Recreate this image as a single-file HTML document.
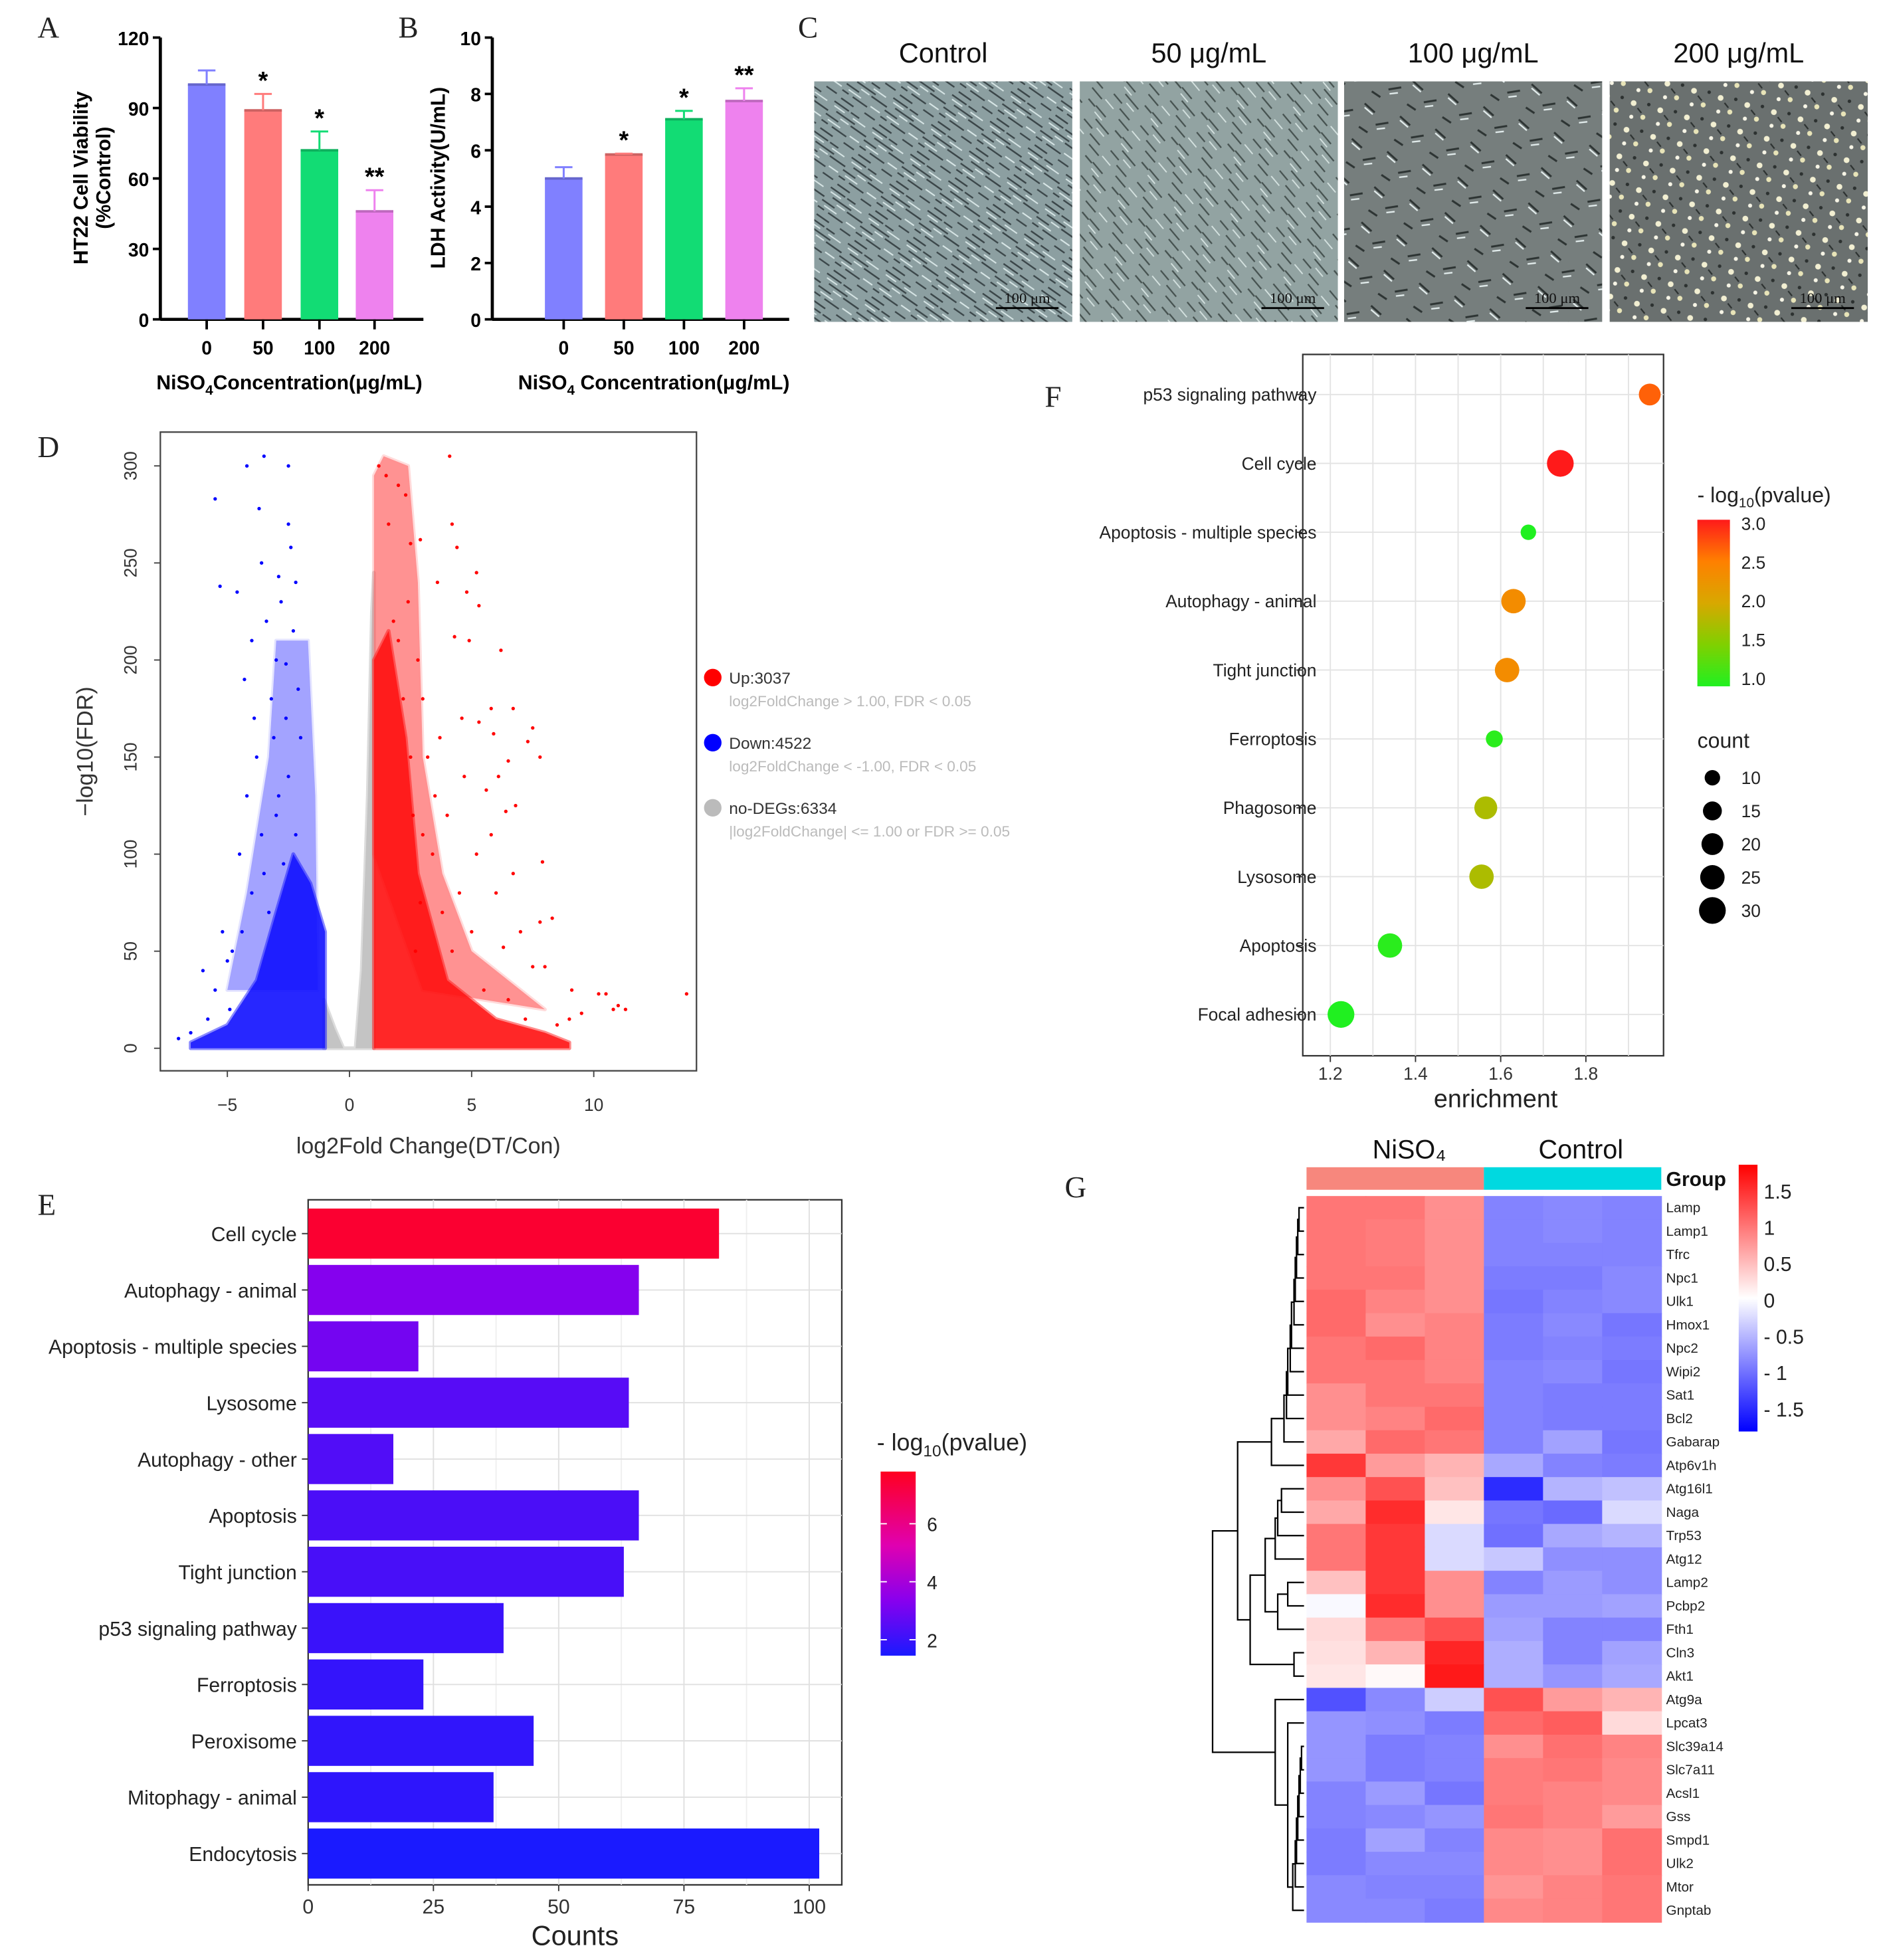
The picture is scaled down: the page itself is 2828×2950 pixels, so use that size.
<!DOCTYPE html>
<html><head><meta charset="utf-8">
<style>
html,body{margin:0;padding:0;background:#fff;}
svg{display:block;font-family:"Liberation Sans",Arial,sans-serif;}
</style></head>
<body>
<svg id="fig" xmlns="http://www.w3.org/2000/svg" width="2828" height="2950" viewBox="0 0 1500 1565" preserveAspectRatio="none">
<defs>
<pattern id="cellsDense" width="37" height="29" patternUnits="userSpaceOnUse" patternTransform="rotate(35)">
<rect width="37" height="29" fill="#8c9fa1"/>
<path d="M0 3h14M6 9h18M0 15h12M10 21h14M16 3h8M0 21h6M22 12h15M25 26h10M3 27h12" stroke="#3b4649" stroke-width="1.3"/>
<path d="M2 6h10M12 12h8M4 18h12M20 6h12M26 19h9" stroke="#d8e6e6" stroke-width="1.1"/>
</pattern>
<pattern id="cellsMid" width="33" height="31" patternUnits="userSpaceOnUse" patternTransform="rotate(50)">
<rect width="33" height="31" fill="#92a3a2"/>
<path d="M0 4h12M8 11h16M2 18h10M14 22h12M20 28h12M25 5h8" stroke="#45514f" stroke-width="1.2"/>
<path d="M3 8h9M14 15h9M1 26h10" stroke="#d5e2e0" stroke-width="1"/>
</pattern>
<pattern id="cellsSparse" width="30" height="30" patternUnits="userSpaceOnUse" patternTransform="rotate(20)">
<rect width="30" height="30" fill="#767e7d"/>
<path d="M2 5l10 4M16 18l9 -5M4 24l8 2" stroke="#2d3433" stroke-width="1.6"/>
<path d="M3 8l8 3M18 21l6 -3" stroke="#e4eeee" stroke-width="1.2"/>
</pattern>
<pattern id="cellsRound" width="22" height="22" patternUnits="userSpaceOnUse" patternTransform="rotate(15)">
<rect width="22" height="22" fill="#6a706f"/>
<circle cx="5" cy="6" r="2.3" fill="#f2efd2"/><circle cx="15" cy="15" r="2" fill="#e8e4b8"/>
<circle cx="17" cy="4" r="1.4" fill="#2c3130"/><circle cx="6" cy="17" r="1.6" fill="#f7f5e6"/>
<path d="M9 9l4 3" stroke="#2c3130" stroke-width="1.2"/>
</pattern>
<linearGradient id="gradE" x1="0" y1="1" x2="0" y2="0">
<stop offset="0" stop-color="#1a1aff"/><stop offset="0.3" stop-color="#8800ee"/><stop offset="0.6" stop-color="#e000b0"/><stop offset="1" stop-color="#ff0020"/>
</linearGradient>
<linearGradient id="gradF" x1="0" y1="1" x2="0" y2="0">
<stop offset="0" stop-color="#20f020"/><stop offset="0.25" stop-color="#80d000"/><stop offset="0.5" stop-color="#d8a800"/><stop offset="0.75" stop-color="#ff8000"/><stop offset="1" stop-color="#ff1a1a"/>
</linearGradient>
<linearGradient id="gradG" x1="0" y1="1" x2="0" y2="0">
<stop offset="0" stop-color="#0000ff"/><stop offset="0.5" stop-color="#ffffff"/><stop offset="1" stop-color="#ff0000"/>
</linearGradient>
</defs>
<g id="root"></g>
</svg>
<script>
// ===== Panel A/B data =====
const concCats = ['0','50','100','200'];
const viability = [100, 89, 72, 46];
const viabilityErr = [106, 96, 80, 55];
const viabilitySig = ['', '*', '*', '**'];
const viabilityTicks = [0,30,60,90,120];
const ldh = [5.0, 5.85, 7.1, 7.75];
const ldhErr = [5.4, 5.88, 7.4, 8.2];
const ldhSig = ['', '*', '*', '**'];
const ldhTicks = [0,2,4,6,8,10];
const barColors = ['#8080ff','#ff7b7b','#12dc74','#ee82ee'];
// ===== Panel C =====
const photoTitles = ['Control','50 μg/mL','100 μg/mL','200 μg/mL'];
// ===== Panel D (volcano) =====
const volcXTicks = [-5,0,5,10];
const volcYTicks = [0,50,100,150,200,250,300];
const grayCloud = [[-1.05,0],[-1.05,25],[-0.6,10],[-0.25,0],[0.25,0],[0.5,40],[0.75,130],[0.92,225],[1,245],[1,0]];
const blueMid = [[-1.3,30],[-1.4,130],[-1.7,210],[-3.0,210],[-3.3,150],[-4.2,80],[-5,30]];
const blueDense = [[-1,0],[-1,60],[-1.6,85],[-2.3,100],[-3,70],[-3.8,35],[-5,12],[-6.5,3],[-6.5,0]];
const redMid = [[1,100],[1,295],[1.4,305],[2.4,300],[2.8,240],[3,150],[3.8,90],[5,50],[8,20],[3,30]];
const redDense = [[1,0],[1,200],[1.6,215],[2.3,160],[2.8,90],[4,35],[6,15],[8,8],[9,3],[9,0]];
const redPtsX = [1.2,1.5,2,2.3,4.1,4.2,4.4,2.5,2.9,5.2,3.6,4.8,5.3,4.3,6.2,4.9,6.7,7.5,7.3,5.8,5.3,5.9,7.8,6.5,6.1,5.6,6.8,6.4,5.8,7.9,5.2,6.7,7.8,8.3,6.3,7.5,8.0,9.1,10.2,10.5,11.3,11.0,13.8,9.0,8.5,7.2,3.5,3.0,2.8,3.2,4.0,4.5,5.0,3.8,2.6,2.2,1.8,3.4,2.9,4.2,5.5,6.5,3.0,2.4,1.6,2.0,2.5,3.7,4.6,2.7,9.5,10.8,7.0,6.0,4.7];
const redPtsY = [300,295,290,285,305,270,258,260,262,245,240,235,228,212,205,210,175,165,158,175,168,162,150,148,140,133,125,122,110,96,100,90,65,67,52,42,42,30,28,28,20,22,28,15,12,15,130,180,200,150,120,80,60,70,120,180,220,100,75,50,30,25,110,230,270,210,150,160,170,50,18,20,60,80,140];
const bluePtsX = [-3.5,-4.2,-2.5,-5.5,-3.7,-2.5,-2.4,-3.6,-2.9,-2.2,-5.3,-4.6,-2.8,-3.4,-4,-2.6,-4.3,-3.2,-2.0,-3.8,-2.5,-4.2,-3.0,-2.2,-4.5,-3.5,-5.2,-6.0,-5.5,-4.8,-4.0,-3.3,-2.7,-3.9,-2.3,-3.1,-6.5,-7,-5.8,-4.9,-2.9,-2.1,-3.6,-4.4,-5.0,-3.0,-2.6];
const bluePtsY = [305,300,300,283,278,270,258,250,243,240,238,235,230,220,210,198,190,180,160,150,140,130,120,110,100,90,60,40,30,50,80,70,95,170,215,160,8,5,15,20,130,185,110,60,45,200,170];
const volcLegend = [['Up:3037','log2FoldChange > 1.00, FDR < 0.05','#ff0000'],['Down:4522','log2FoldChange < -1.00, FDR < 0.05','#0000ff'],['no-DEGs:6334','|log2FoldChange| <= 1.00 or FDR >= 0.05','#bbbbbb']];
// ===== Panel E =====
const eTerms = ['Cell cycle','Autophagy -  animal','Apoptosis -  multiple species','Lysosome','Autophagy -  other','Apoptosis','Tight junction','p53 signaling pathway','Ferroptosis','Peroxisome','Mitophagy -  animal','Endocytosis'];
const eCounts = [82,66,22,64,17,66,63,39,23,45,37,102];
const ePval = [7.5,3.3,3.0,2.5,2.4,2.3,2.25,2.0,1.9,1.85,1.8,1.3];
const eTicks = [0,25,50,75,100];
const eLegendTicks = [2,4,6];
// ===== Panel F =====
const fTerms = ['p53 signaling pathway','Cell cycle','Apoptosis -  multiple species','Autophagy -  animal','Tight junction','Ferroptosis','Phagosome','Lysosome','Apoptosis','Focal adhesion'];
const fEnrich = [1.95,1.74,1.665,1.63,1.615,1.585,1.565,1.555,1.34,1.225];
const fPval = [2.65,3.0,1.0,2.35,2.35,1.05,1.75,1.75,1.05,1.0];
const fCount = [20,30,10,25,25,12,22,25,25,30];
const fTicks = [1.2,1.4,1.6,1.8];
const fColorTicks = [3.0,2.5,2.0,1.5,1.0];
const fCountTicks = [10,15,20,25,30];
// ===== Panel G =====
const genes = ['Lamp','Lamp1','Tfrc','Npc1','Ulk1','Hmox1','Npc2','Wipi2','Sat1','Bcl2','Gabarap','Atp6v1h','Atg16l1','Naga','Trp53','Atg12','Lamp2','Pcbp2','Fth1','Cln3','Akt1','Atg9a','Lpcat3','Slc39a14','Slc7a11','Acsl1','Gss','Smpd1','Ulk2','Mtor','Gnptab'];
const gNi1 = [1.1,1.1,1.1,1.1,1.2,1.2,1.1,1.1,0.9,0.9,0.7,1.6,0.9,0.7,1.1,1.1,0.5,-0.05,0.3,0.25,0.2,-1.4,-0.85,-0.85,-0.85,-1.0,-1.0,-1.05,-1.05,-0.95,-0.95];
const gNi2 = [1.1,1.05,1.05,1.1,1.0,0.9,1.2,1.1,1.1,1.0,1.2,0.8,1.4,1.7,1.6,1.6,1.6,1.7,1.1,0.6,0.05,-0.95,-0.9,-1.05,-1.05,-0.8,-0.95,-0.75,-0.95,-1.0,-0.95];
const gNi3 = [0.9,0.9,0.9,0.9,0.9,1.0,1.0,1.0,1.1,1.2,1.1,0.6,0.5,0.2,-0.3,-0.3,0.9,0.9,1.4,1.75,1.85,-0.4,-1.05,-1.0,-1.0,-1.1,-0.85,-1.0,-0.95,-1.0,-1.05];
const gCo1 = [-1.0,-1.0,-1.0,-1.05,-1.1,-1.05,-1.05,-1.0,-1.0,-1.0,-1.0,-0.7,-1.7,-1.1,-1.15,-0.45,-1.0,-0.8,-0.75,-0.65,-0.65,1.4,1.2,0.9,1.05,1.05,1.1,0.95,0.95,0.85,0.95];
const gCo2 = [-0.95,-0.95,-1.0,-1.05,-1.0,-0.95,-1.0,-0.95,-1.05,-1.05,-0.75,-1.0,-0.6,-1.2,-0.7,-0.9,-0.8,-0.8,-1.0,-1.0,-0.85,0.8,1.3,1.15,1.1,1.0,1.0,0.9,0.9,1.0,1.0];
const gCo3 = [-1.0,-1.0,-1.0,-0.95,-0.95,-1.1,-1.05,-1.1,-1.05,-1.05,-1.1,-1.05,-0.5,-0.3,-0.6,-0.9,-0.9,-0.75,-1.0,-0.75,-0.7,0.6,0.3,1.0,0.95,0.95,0.8,1.15,1.15,1.1,1.1];
const gLegendTicks = [1.5,1,0.5,0,-0.5,-1,-1.5];

const NS='http://www.w3.org/2000/svg';
const root=document.getElementById('root');
function el(tag,attrs,parent,txt){const e=document.createElementNS(NS,tag);for(const k in attrs)e.setAttribute(k,attrs[k]);if(txt!==undefined)e.textContent=txt;(parent||root).appendChild(e);return e;}
function grp(name){const g=el('g',{});return g;}
function lerpColor(stops,t){t=Math.max(0,Math.min(1,t));for(let i=1;i<stops.length;i++){if(t<=stops[i][0]){const a=stops[i-1],b=stops[i];const u=(t-a[0])/(b[0]-a[0]);const ca=a[1],cb=b[1];const c=[0,1,2].map(j=>Math.round(ca[j]+(cb[j]-ca[j])*u));return 'rgb('+c.join(',')+')';}}const l=stops[stops.length-1][1];return 'rgb('+l.join(',')+')';}

const letters=[['A',30,30],['B',318,30],['C',637,30],['D',30,365],['E',30,970],['F',834,325],['G',850,956]];
letters.forEach(l=>{const t=el('text',{x:l[1],y:l[2],'font-family':'"Liberation Serif",serif','font-size':24,fill:'#222'},root,l[0]);

});

function barChart(name,axisX,cx,vals,errs,sig,ticks,maxV,ylabel,ylabel2,xlabel,xEnd,xlabX){
  const g=grp(name);
  const y=v=>255-v*225/maxV;
  el('line',{x1:axisX,y1:y(maxV),x2:axisX,y2:256,stroke:'#000','stroke-width':2.5},g);
  el('line',{x1:axisX,y1:255,x2:xEnd,y2:255,stroke:'#000','stroke-width':2.5},g);
  ticks.forEach(t=>{el('line',{x1:axisX-6,y1:y(t),x2:axisX,y2:y(t),stroke:'#000','stroke-width':2},g);
    const tl=el('text',{x:axisX-9,y:y(t)+6,'text-anchor':'end','font-size':15,'font-weight':'bold',fill:'#000'},g,String(t));
    
    });
  vals.forEach((v,i)=>{const c=cx[i];
    const b=el('rect',{x:c-15,y:y(v),width:30,height:255-y(v),fill:barColors[i]},g);
    
    
    el('line',{x1:c-15,y1:y(v),x2:c+15,y2:y(v),stroke:barColors[i],'stroke-width':2,filter:'brightness(0.8)'},g);
    el('line',{x1:c,y1:y(v),x2:c,y2:y(errs[i]),stroke:barColors[i],'stroke-width':1.6},g);
    el('line',{x1:c-7,y1:y(errs[i]),x2:c+7,y2:y(errs[i]),stroke:barColors[i],'stroke-width':1.6},g);
    if(sig[i]){const s=el('text',{x:c,y:y(errs[i])-4,'text-anchor':'middle','font-size':20,'font-weight':'bold'},g,sig[i]);
      
      }
    el('line',{x1:c,y1:255,x2:c,y2:263,stroke:'#000','stroke-width':2},g);
    const xl=el('text',{x:c,y:283,'text-anchor':'middle','font-size':15,'font-weight':'bold'},g,concCats[i]);
    
    
  });
  const yl=el('text',{transform:'translate('+(axisX-(ylabel2?58:38))+',142) rotate(-90)','text-anchor':'middle','font-size':16,'font-weight':'bold'},g,ylabel);
  
  
  if(ylabel2){el('text',{transform:'translate('+(axisX-40)+',142) rotate(-90)','text-anchor':'middle','font-size':16,'font-weight':'bold'},g,ylabel2);}
  const xt=el('text',{x:xlabX,y:311,'text-anchor':'middle','font-size':16,'font-weight':'bold'},g);
  
  
  el('tspan',{},xt,'NiSO');el('tspan',{'font-size':11,dy:4},xt,'4');el('tspan',{dy:-4},xt,xlabel);
}
barChart('viability-chart',128,[165,210,255,299],viability,viabilityErr,viabilitySig,viabilityTicks,120,'HT22 Cell Viability','(%Control)','Concentration(μg/mL)',338,231);
barChart('ldh-chart',393,[450,498,546,594],ldh,ldhErr,ldhSig,ldhTicks,10,'LDH Activity(U/mL)',null,' Concentration(μg/mL)',630,522);

(function(){const g=grp('cell-photos');
  const xs=[650,862,1073,1285];const pats=['cellsDense','cellsMid','cellsSparse','cellsRound'];
  photoTitles.forEach((t,i)=>{
    const tt=el('text',{x:xs[i]+103,y:50,'text-anchor':'middle','font-size':22,fill:'#111'},g,t);
    
    
    const r=el('rect',{x:xs[i],y:65,width:206,height:192,fill:'url(#'+pats[i]+')'},g);
    
    
    el('line',{x1:xs[i]+145,y1:246,x2:xs[i]+195,y2:246,stroke:'#000','stroke-width':1.5},g);
    el('text',{x:xs[i]+170,y:242,'text-anchor':'middle','font-family':'"Liberation Serif",serif','font-size':12,fill:'#111'},g,'100 μm');
  });})();

(function(){const g=grp('volcano-plot');
  const X=v=>279+v*19.5, Y=v=>837-v*1.55;
  el('rect',{x:128,y:345,width:428,height:510,fill:'#fff',stroke:'#444','stroke-width':1.2},g);
  const poly=(pts,fill,op,name)=>{const p=el('polygon',{points:pts.map(q=>X(q[0])+','+Y(q[1])).join(' '),fill:fill,opacity:op,'stroke-linejoin':'round',stroke:fill,'stroke-width':3,'stroke-opacity':op*0.6},g);
    
    };
  poly(grayCloud,'#c4c4c4',1,'nodeg-cloud');
  poly(blueMid,'#4a4aff',0.5,'down-cloud-sparse');
  poly(blueDense,'#1010ff',0.9,'down-cloud-dense');
  poly(redMid,'#ff3a3a',0.55,'up-cloud-sparse');
  poly(redDense,'#ff1010',0.9,'up-cloud-dense');
  redPtsX.forEach((x,i)=>{const c=el('circle',{cx:X(x),cy:Y(redPtsY[i]),r:1.4,fill:'#ff0000'},g);
    
    });
  bluePtsX.forEach((x,i)=>{const c=el('circle',{cx:X(x),cy:Y(bluePtsY[i]),r:1.4,fill:'#0000ff'},g);
    
    });
  volcXTicks.forEach(t=>{el('line',{x1:X(t),y1:855,x2:X(t),y2:860,stroke:'#444'},g);
    el('text',{x:X(t),y:887,'text-anchor':'middle','font-size':14,fill:'#333'},g,(t<0?'−'+(-t):String(t)));});
  volcYTicks.forEach(t=>{el('line',{x1:123,y1:Y(t),x2:128,y2:Y(t),stroke:'#444'},g);
    el('text',{transform:'translate(109,'+Y(t)+') rotate(-90)','text-anchor':'middle','font-size':14,fill:'#333'},g,String(t));});
  const yt=el('text',{transform:'translate(74,600) rotate(-90)','text-anchor':'middle','font-size':18,fill:'#333'},g,'−log10(FDR)');
  
  
  const xt=el('text',{x:342,y:921,'text-anchor':'middle','font-size':18,fill:'#333'},g,'log2Fold Change(DT/Con)');
  
  
  volcLegend.forEach((l,i)=>{const y=541+i*52;
    const c=el('circle',{cx:569,cy:y,r:7,fill:l[2]},g);
    
    
    el('text',{x:582,y:y+5,'font-size':13,fill:'#333'},g,l[0]);
    el('text',{x:582,y:y+23,'font-size':12,fill:'#bbb'},g,l[1]);});
})();

(function(){const g=grp('kegg-bar-chart');
  const X=v=>246+v*4, rowY=i=>985+i*45;
  el('rect',{x:246,y:958,width:426,height:547,fill:'#fff',stroke:'#333','stroke-width':1.2},g);
  for(let v=12.5;v<106;v+=12.5){el('line',{x1:X(v),y1:958,x2:X(v),y2:1505,stroke:(v%25===0)?'#e0e0e0':'#efefef','stroke-width':1},g);}
  eTerms.forEach((t,i)=>{el('line',{x1:246,y1:rowY(i),x2:672,y2:rowY(i),stroke:'#e0e0e0'},g);});
  const stops=[[0,[26,26,255]],[0.3,[136,0,238]],[0.6,[224,0,176]],[1,[255,0,32]]];
  eTerms.forEach((t,i)=>{
    const b=el('rect',{x:246,y:rowY(i)-20,width:X(eCounts[i])-246,height:40,fill:lerpColor(stops,(ePval[i]-1.45)/(7.8-1.45))},g);
    
    
    el('line',{x1:241,y1:rowY(i),x2:246,y2:rowY(i),stroke:'#333'},g);
    el('text',{x:237,y:rowY(i)+6,'text-anchor':'end','font-size':16,fill:'#222'},g,t);});
  eTicks.forEach(t=>{el('line',{x1:X(t),y1:1505,x2:X(t),y2:1510,stroke:'#333'},g);
    el('text',{x:X(t),y:1528,'text-anchor':'middle','font-size':16,fill:'#333'},g,String(t));});
  const xt=el('text',{x:459,y:1553,'text-anchor':'middle','font-size':22,fill:'#222'},g,'Counts');
  
  
  const lt=el('text',{x:700,y:1158,'font-size':19,fill:'#222'},g);
  el('tspan',{},lt,'- log');el('tspan',{'font-size':13,dy:5},lt,'10');el('tspan',{dy:-5},lt,'(pvalue)');
  const cb=el('rect',{x:703,y:1175,width:28,height:147,fill:'url(#gradE)'},g);
  
  
  const LY=v=>1322-(v-1.45)*147/(7.8-1.45);
  eLegendTicks.forEach(t=>{el('line',{x1:703,y1:LY(t),x2:708,y2:LY(t),stroke:'#fff'},g);el('line',{x1:726,y1:LY(t),x2:731,y2:LY(t),stroke:'#fff'},g);
    el('text',{x:740,y:LY(t)+6,'font-size':15,fill:'#222'},g,String(t));});
})();

(function(){const g=grp('kegg-dot-plot');
  const X=v=>1062+(v-1.2)*340, rowY=i=>315+i*55;
  el('rect',{x:1040,y:283,width:288,height:560,fill:'#fff',stroke:'#333','stroke-width':1.2},g);
  for(let v=1.1;v<=2.01;v+=0.1){const x=X(v);if(x>1040&&x<1328)el('line',{x1:x,y1:283,x2:x,y2:843,stroke:'#e3e3e3'},g);}
  fTerms.forEach((t,i)=>{el('line',{x1:1040,y1:rowY(i),x2:1328,y2:rowY(i),stroke:'#e3e3e3'},g);
    el('line',{x1:1035,y1:rowY(i),x2:1040,y2:rowY(i),stroke:'#333'},g);
    el('text',{x:1051,y:rowY(i)+5,'text-anchor':'end','font-size':14,fill:'#222'},g,t);});
  const stops=[[0,[32,240,32]],[0.25,[128,208,0]],[0.5,[216,168,0]],[0.75,[255,128,0]],[1,[255,26,26]]];
  const R=c=>Math.sqrt(c)*1.95;
  fTerms.forEach((t,i)=>{const c=el('circle',{cx:X(fEnrich[i]),cy:rowY(i),r:R(fCount[i]),fill:lerpColor(stops,(fPval[i]-1)/2)},g);
    
    });
  fTicks.forEach(t=>{el('line',{x1:X(t),y1:843,x2:X(t),y2:848,stroke:'#333'},g);
    el('text',{x:X(t),y:862,'text-anchor':'middle','font-size':14,fill:'#333'},g,t.toFixed(1));});
  const xt=el('text',{x:1194,y:884,'text-anchor':'middle','font-size':20,fill:'#222'},g,'enrichment');
  
  
  const lt=el('text',{x:1355,y:401,'font-size':17,fill:'#222'},g);
  el('tspan',{},lt,'- log');el('tspan',{'font-size':11,dy:4},lt,'10');el('tspan',{dy:-4},lt,'(pvalue)');
  const cb=el('rect',{x:1355,y:415,width:26,height:133,fill:'url(#gradF)'},g);
  
  
  const LY=v=>542-(v-1)*62;
  fColorTicks.forEach(t=>{el('text',{x:1390,y:LY(t)+5,'font-size':14,fill:'#222'},g,t.toFixed(1));});
  el('text',{x:1355,y:597,'font-size':17,fill:'#222'},g,'count');
  fCountTicks.forEach((c,i)=>{const y=621+i*26.5;
    const d=el('circle',{cx:1367,cy:y,r:R(c),fill:'#000'},g);
    
    
    el('text',{x:1390,y:y+5,'font-size':14,fill:'#222'},g,String(c));});
})();

(function(){const g=grp('heatmap');
  const cols=[gNi1,gNi2,gNi3,gCo1,gCo2,gCo3];
  const x0=1043,cw=47.2,y0=955,rh=18.7;
  el('text',{x:1125,y:925,'text-anchor':'middle','font-size':21,fill:'#111'},g,'NiSO₄');
  el('text',{x:1262,y:925,'text-anchor':'middle','font-size':21,fill:'#111'},g,'Control');
  const ga=el('rect',{x:x0,y:932,width:cw*3,height:18,fill:'#f7877d'},g);
  
  
  const gb=el('rect',{x:x0+cw*3,y:932,width:cw*3,height:18,fill:'#00d9e0'},g);
  
  
  el('text',{x:1330,y:947,'font-size':16,'font-weight':'bold',fill:'#111'},g,'Group');
  const col=v=>{const t=Math.min(1,Math.abs(v)/2.05);const k=Math.round(255*(1-t));return v>=0?'rgb(255,'+k+','+k+')':'rgb('+k+','+k+',255)';};
  genes.forEach((gn,r)=>{cols.forEach((cv,c)=>{
    const cell=el('rect',{x:x0+c*cw,y:y0+r*rh,width:cw+0.5,height:rh+0.5,fill:col(cv[r])},g);
    
    });
    el('text',{x:1330,y:y0+r*rh+13,'font-size':11,fill:'#222'},g,gn);});
  const cb=el('rect',{x:1388,y:930,width:15,height:213,fill:'url(#gradG)'},g);
  
  
  gLegendTicks.forEach(t=>{el('text',{x:1408,y:1038-t*58+6,'font-size':16,fill:'#222'},g,(t<0?'- '+(-t):String(t)));});
  const ly=i=>y0+(i+0.5)*rh;
  function chain(a,b,xs){
    let node={y:ly(a),x:1041};
    for(let i=a+1;i<=b;i++){const x=xs[i-a-1];const ny=ly(i);
      el('path',{d:'M'+node.x+' '+node.y+'H'+x+'V'+ny+'H1041',fill:'none',stroke:'#000','stroke-width':1.2},g);
      node={y:(node.y+ny)/2,x:x};}
    return node;}
  function join(n1,n2,x){el('path',{d:'M'+n1.x+' '+n1.y+'H'+x+'V'+n2.y+'H'+n2.x,fill:'none',stroke:'#000','stroke-width':1.2},g);return {x:x,y:(n1.y+n2.y)/2};}
  const a1=chain(0,10,[1037,1036,1035,1034,1033,1031,1030,1028,1027,1025]);
  const a2=join(a1,{x:1041,y:ly(11)},1015);
  const b1=chain(12,15,[1023,1020,1018]);
  const b2=chain(16,18,[1028,1020]);
  const b3=join(b1,b2,1010);
  const c1=chain(19,20,[1033]);
  const b4=join(b3,c1,998);
  const a3=join(a2,b4,988);
  const d1=chain(23,30,[1039,1038,1037,1036,1035,1034,1032]);
  const d2=join({x:1041,y:ly(22)},d1,1028);
  const d3=join({x:1041,y:ly(21)},d2,1018);
  join(a3,d3,968);
})();
</script>
</body></html>
